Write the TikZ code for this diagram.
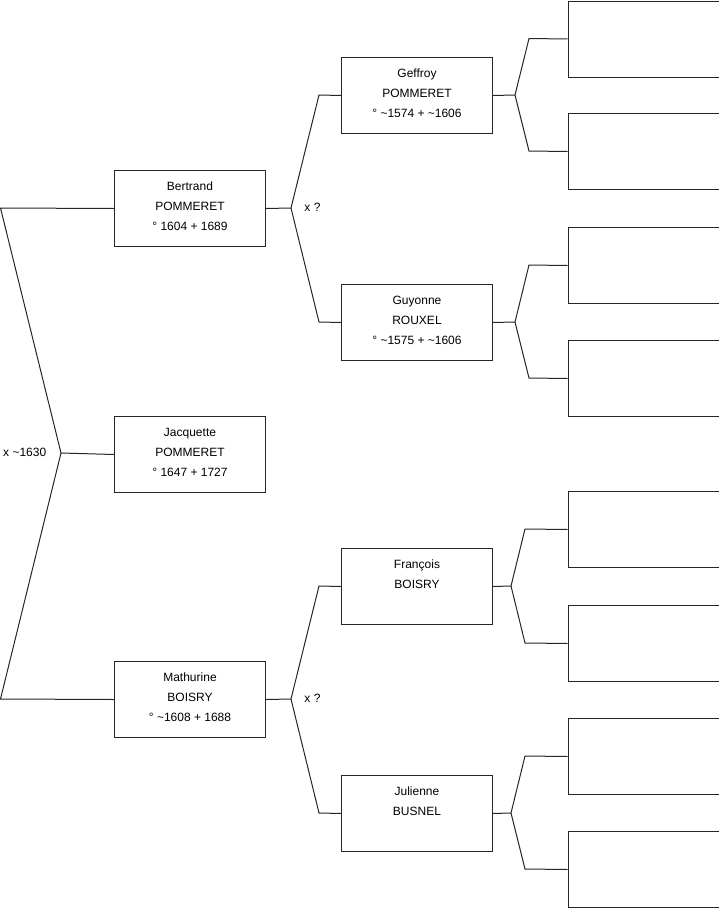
\documentclass[tikz,border=0pt]{standalone}
\usepackage{fontspec}
\setmainfont{Liberation Sans}
\newcommand{\tld}{\textasciitilde}
\begin{document}
\begin{tikzpicture}[x=1pt,y=-1pt,
  box/.style={draw=black!85, line width=1pt, minimum width=151pt, minimum height=76pt, inner sep=0pt, anchor=north west},
  txt/.style={anchor=north, align=center, inner sep=0pt, font=\fontsize{12}{20}\selectfont, yshift=-11.6pt},
  conn/.style={draw=black!85, line width=1pt},
  lbl/.style={inner sep=0pt, font=\fontsize{12}{14}\selectfont}]
\useasboundingbox (0,0) rectangle (719,908);
% generation 1
\node[box] (bertrand) at (114,170) {};
\node[box] (jacquette) at (114,416) {};
\node[box] (mathurine) at (114,661) {};
\node[txt] (tbertrand) at (bertrand.north) {Bertrand\\POMMERET\\° 1604 + 1689};
\node[txt] (tjacquette) at (jacquette.north) {Jacquette\\POMMERET\\° 1647 + 1727};
\node[txt] (tmathurine) at (mathurine.north) {Mathurine\\BOISRY\\° \tld1608 + 1688};
% generation 2
\node[box] (geffroy) at (341,57) {};
\node[box] (guyonne) at (341,284) {};
\node[box] (francois) at (341,548) {};
\node[box] (julienne) at (341,775) {};
\node[txt] (tgeffroy) at (geffroy.north) {Geffroy\\POMMERET\\° \tld1574 + \tld1606};
\node[txt] (tguyonne) at (guyonne.north) {Guyonne\\ROUXEL\\° \tld1575 + \tld1606};
\node[txt] (tfrancois) at (francois.north) {François\\BOISRY};
\node[txt] (tjulienne) at (julienne.north) {Julienne\\BUSNEL};
% generation 3
\node[box] (r1) at (567.5,0.5) {};
\node[box] (r2) at (567.5,113) {};
\node[box] (r3) at (567.5,227) {};
\node[box] (r4) at (567.5,340) {};
\node[box] (r5) at (567.5,491) {};
\node[box] (r6) at (567.5,605) {};
\node[box] (r7) at (567.5,718) {};
\node[box] (r8) at (567.5,831) {};
% left fork
\coordinate (la) at (0.5,208);
\coordinate (lf) at (61,453);
\coordinate (lb) at (0.5,699);
\draw[conn] (bertrand.west) -- (la) -- (lf) -- (lb) -- (mathurine.west);
\draw[conn] (lf) -- (jacquette.west);
\node[lbl, anchor=west] (m1) at (3,452) {x \tld1630};
% Bertrand fork
\coordinate (bf) at (291,208);
\coordinate (bfa) at (319,95);
\coordinate (bfb) at (319,322);
\draw[conn] (bertrand.east) -- (bf);
\draw[conn] (geffroy.west) -- (bfa) -- (bf) -- (bfb) -- (guyonne.west);
\node[lbl] (m2) at (312.5,207) {x ?};
% Mathurine fork
\coordinate (mf) at (291,699);
\coordinate (mfa) at (319,586);
\coordinate (mfb) at (319,813);
\draw[conn] (mathurine.east) -- (mf);
\draw[conn] (francois.west) -- (mfa) -- (mf) -- (mfb) -- (julienne.west);
\node[lbl] (m3) at (312.5,698) {x ?};
% Geffroy fork
\coordinate (gf) at (515,95);
\coordinate (gfa) at (529,38.5);
\coordinate (gfb) at (529,151);
\draw[conn] (geffroy.east) -- (gf);
\draw[conn] (r1.west) -- (gfa) -- (gf) -- (gfb) -- (r2.west);
% Guyonne fork
\coordinate (uf) at (515,322);
\coordinate (ufa) at (529,265);
\coordinate (ufb) at (529,378);
\draw[conn] (guyonne.east) -- (uf);
\draw[conn] (r3.west) -- (ufa) -- (uf) -- (ufb) -- (r4.west);
% Francois fork
\coordinate (ff) at (511,586);
\coordinate (ffa) at (525,529);
\coordinate (ffb) at (525,643);
\draw[conn] (francois.east) -- (ff);
\draw[conn] (r5.west) -- (ffa) -- (ff) -- (ffb) -- (r6.west);
% Julienne fork
\coordinate (jf) at (511,813);
\coordinate (jfa) at (525,756);
\coordinate (jfb) at (525,869);
\draw[conn] (julienne.east) -- (jf);
\draw[conn] (r7.west) -- (jfa) -- (jf) -- (jfb) -- (r8.west);
\end{tikzpicture}
\end{document}
